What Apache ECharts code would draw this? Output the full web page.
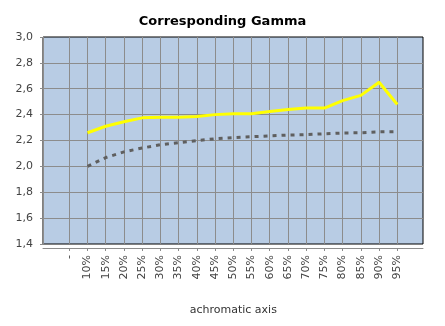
<!DOCTYPE html>
<html>
<head>
<meta charset="utf-8">
<script src="https://cdn.jsdelivr.net/npm/echarts@6/dist/echarts.min.js"></script>
<style>
  html, body { margin: 0; padding: 0; background: #ffffff; }
  #chart { width: 445px; height: 326px; }
</style>
</head>
<body>
<div id="chart"></div>
<script>
// Achromatic axis steps
const categories = ['-', '10%', '15%', '20%', '25%', '30%', '35%', '40%', '45%', '50%',
  '55%', '60%', '65%', '70%', '75%', '80%', '85%', '90%', '95%'];

// Measured gamma per step (no value at "-")
const gammaMeasured = [null, 2.26, 2.31, 2.345, 2.375, 2.38, 2.38, 2.386, 2.40, 2.407,
  2.407, 2.425, 2.44, 2.452, 2.451, 2.508, 2.549, 2.65, 2.478];

// Reference gamma curve
const gammaReference = [null, 2.00, 2.068, 2.112, 2.142, 2.167, 2.183, 2.199, 2.213, 2.222,
  2.229, 2.236, 2.242, 2.245, 2.252, 2.258, 2.26, 2.267, 2.268];

// Value axis ticks
const yMin = 1.4, yMax = 3.0, yStep = 0.2;

const font = 'Tahoma, "DejaVu Sans", Verdana, sans-serif';
const gridColor = '#8c8c8c';

const chart = echarts.init(document.getElementById('chart'), null, { renderer: 'canvas' });

chart.setOption({
  backgroundColor: '#ffffff',
  animation: false,
  title: {
    text: 'Corresponding Gamma',
    left: 'center',
    top: 10,
    textStyle: { fontFamily: font, fontSize: 13, fontWeight: 'bold', color: '#000' }
  },
  grid: [
    {
      // plot frame
      left: 43, right: 22, top: 37, bottom: 82,
      show: true, backgroundColor: '#b8cce4', borderColor: '#000', borderWidth: 1
    },
    {
      // category band, inset from the frame
      left: 69.3, right: 47.7, top: 37, bottom: 82
    }
  ],
  xAxis: [
    {
      gridIndex: 0, type: 'value', min: 0, max: 1, offset: 4,
      axisLine: { show: true, lineStyle: { color: gridColor, width: 1 } },
      axisTick: { show: false }, axisLabel: { show: false }, splitLine: { show: false }
    },
    {
      gridIndex: 1, type: 'category', data: categories, boundaryGap: false, offset: 4,
      axisLine: { show: false },
      axisTick: { show: true, length: 3, alignWithLabel: true, lineStyle: { color: gridColor } },
      axisLabel: {
        rotate: 90, margin: 7, interval: 0,
        fontFamily: font, fontSize: 11, color: '#444'
      },
      splitLine: { show: true, lineStyle: { color: gridColor, width: 1 } },
      name: 'achromatic axis', nameLocation: 'middle', nameGap: 57,
      nameTextStyle: { fontFamily: font, fontSize: 11, color: '#333' }
    }
  ],
  yAxis: [
    {
      gridIndex: 0, type: 'value', min: yMin, max: yMax, interval: yStep, offset: 4,
      axisLine: { show: true, lineStyle: { color: gridColor, width: 1 } },
      axisTick: { show: true, length: 3, lineStyle: { color: gridColor } },
      axisLabel: {
        margin: 6, fontFamily: font, fontSize: 11, color: '#444',
        formatter: v => v.toFixed(1).replace('.', ',')
      },
      splitLine: { show: true, showMinLine: false, showMaxLine: false,
        lineStyle: { color: gridColor, width: 1 } }
    },
    {
      gridIndex: 1, type: 'value', min: yMin, max: yMax, interval: yStep,
      axisLine: { show: false }, axisTick: { show: false },
      axisLabel: { show: false }, splitLine: { show: false }
    }
  ],
  series: [
    {
      name: 'measured', type: 'line', xAxisIndex: 1, yAxisIndex: 1,
      data: gammaMeasured, showSymbol: false, symbol: 'none',
      lineStyle: { color: '#ffff00', width: 3 }, z: 3
    },
    {
      name: 'reference', type: 'line', xAxisIndex: 1, yAxisIndex: 1,
      data: gammaReference, showSymbol: false, symbol: 'none',
      lineStyle: { color: '#5f5f5f', width: 3, type: [4, 5] }, z: 2
    }
  ]
});
</script>
</body>
</html>
